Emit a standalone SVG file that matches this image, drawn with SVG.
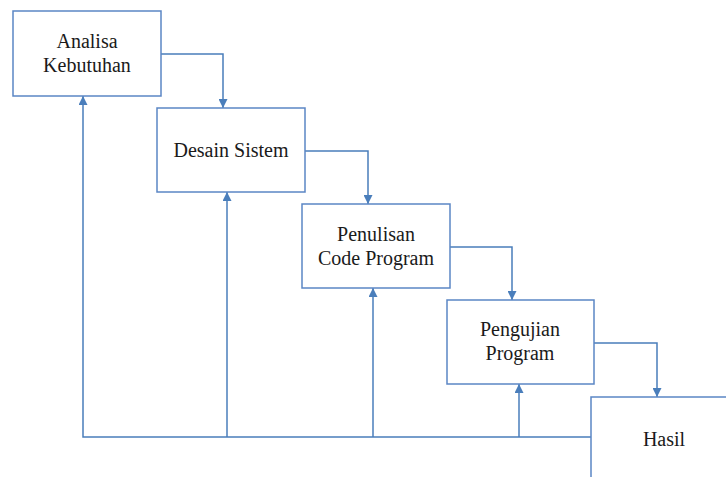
<svg xmlns="http://www.w3.org/2000/svg" width="726" height="477" viewBox="0 0 726 477">
<style>
.box{fill:#fff;stroke:#5b86c5;stroke-width:1.5}
.ln{fill:none;stroke:#4a7ebb;stroke-width:1.5}
.t{font-family:"Liberation Serif","Times New Roman",serif;font-size:20px;fill:#1a1a1a;text-anchor:middle}
</style>
<defs>
<marker id="ah" viewBox="0 0 10 10" refX="10" refY="5" markerWidth="11" markerHeight="9" markerUnits="userSpaceOnUse" orient="auto">
<path d="M0,0 L10,5 L0,10 Z" fill="#4a7ebb"/>
</marker>
</defs>
<g id="connectors">
<path class="ln" d="M161,54 H223 V108" marker-end="url(#ah)"/>
<path class="ln" d="M305,151 H368 V204" marker-end="url(#ah)"/>
<path class="ln" d="M450,247 H512 V300" marker-end="url(#ah)"/>
<path class="ln" d="M594,343 H657 V397" marker-end="url(#ah)"/>
<path class="ln" d="M591,437 H83 V96" marker-end="url(#ah)"/>
<path class="ln" d="M227,437 V192" marker-end="url(#ah)"/>
<path class="ln" d="M373,437 V288" marker-end="url(#ah)"/>
<path class="ln" d="M519,437 V384" marker-end="url(#ah)"/>
</g>
<g id="analisa">
<rect class="box" x="13" y="11" width="148" height="85"/>
<text class="t" x="87" y="48">Analisa</text>
<text class="t" x="87" y="72">Kebutuhan</text>
</g>
<g id="desain">
<rect class="box" x="157" y="108" width="148" height="84"/>
<text class="t" x="231" y="157">Desain Sistem</text>
</g>
<g id="penulisan">
<rect class="box" x="302" y="204" width="148" height="84"/>
<text class="t" x="376" y="241">Penulisan</text>
<text class="t" x="376" y="265">Code Program</text>
</g>
<g id="pengujian">
<rect class="box" x="447" y="300" width="147" height="84"/>
<text class="t" x="520" y="336">Pengujian</text>
<text class="t" x="520" y="360">Program</text>
</g>
<g id="hasil">
<path class="box" d="M591,477 V397 H727" fill="none"/>
<text class="t" x="664" y="446">Hasil</text>
</g>
</svg>
